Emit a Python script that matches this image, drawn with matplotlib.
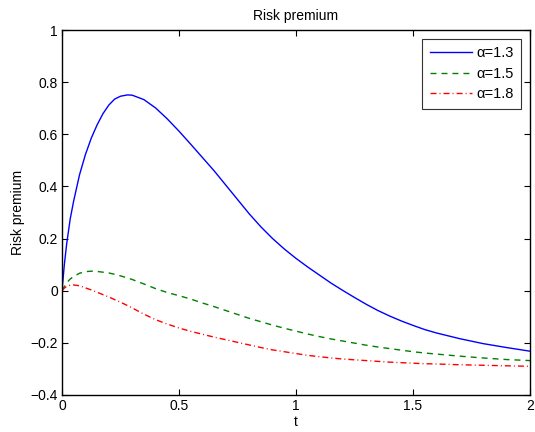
import matplotlib
matplotlib.use("Agg")
import matplotlib.pyplot as plt

plt.rcParams["font.family"] = ["Liberation Sans", "DejaVu Sans"]

# values
t = [0, 0.01, 0.02, 0.035, 0.05, 0.075, 0.1, 0.125, 0.15, 0.175, 0.2, 0.225,
     0.25, 0.28, 0.3, 0.35, 0.4, 0.45, 0.5, 0.55, 0.6, 0.65, 0.7, 0.75, 0.8,
     0.85, 0.9, 0.95, 1.0, 1.05, 1.1, 1.15, 1.2, 1.25, 1.3, 1.35, 1.4, 1.45,
     1.5, 1.55, 1.6, 1.7, 1.8, 1.9, 2.0]
rp_13 = [0, 0.10, 0.18, 0.275, 0.345, 0.445, 0.522, 0.585, 0.636, 0.679,
         0.712, 0.735, 0.746, 0.751, 0.750, 0.733, 0.701, 0.659, 0.612,
         0.562, 0.511, 0.460, 0.405, 0.350, 0.295, 0.245, 0.200, 0.160,
         0.124, 0.091, 0.060, 0.029, 0.001, -0.026, -0.052, -0.076, -0.097,
         -0.116, -0.133, -0.149, -0.162, -0.184, -0.203, -0.218, -0.232]
rp_15 = [0, 0.016, 0.03, 0.045, 0.055, 0.067, 0.073, 0.075, 0.074, 0.071,
         0.068, 0.063, 0.057, 0.049, 0.043, 0.026, 0.008, -0.007, -0.019,
         -0.032, -0.047, -0.061, -0.076, -0.091, -0.106, -0.119, -0.132,
         -0.144, -0.155, -0.166, -0.176, -0.185, -0.193, -0.201, -0.209,
         -0.216, -0.222, -0.228, -0.234, -0.239, -0.243, -0.251, -0.258,
         -0.264, -0.268]
rp_18 = [0, 0.010, 0.017, 0.021, 0.022, 0.019, 0.011, 0.003, -0.006, -0.015,
         -0.024, -0.034, -0.044, -0.057, -0.066, -0.090, -0.111, -0.128,
         -0.143, -0.156, -0.167, -0.178, -0.188, -0.198, -0.208, -0.218,
         -0.227, -0.234, -0.241, -0.248, -0.253, -0.258, -0.262, -0.265,
         -0.268, -0.271, -0.274, -0.276, -0.278, -0.280, -0.281, -0.284,
         -0.286, -0.288, -0.290]
labels = ["\u03b1=1.3", "\u03b1=1.5", "\u03b1=1.8"]
xticks = [0, 0.5, 1, 1.5, 2]
yticks = [-0.4, -0.2, 0, 0.2, 0.4, 0.6, 0.8, 1]

fig = plt.figure(figsize=(5.35, 4.32), dpi=100, facecolor="white")
ax = fig.add_axes([62 / 535, 1 - 395 / 432, 468 / 535, 365 / 432])

ax.plot(t, rp_13, color="#0000ff", linewidth=1.0, label=labels[0])
ax.plot(t, rp_15, color="#008000", linewidth=1.0, linestyle=(0, (4.3, 3.6)),
        label=labels[1])
ax.plot(t, rp_18, color="#ff0000", linewidth=1.0,
        linestyle=(0, (4.3, 2.2, 0.7, 2.2)), label=labels[2])

ax.set_xlim(0, 2)
ax.set_ylim(-0.4, 1)
ax.set_xticks(xticks)
ax.set_xticklabels(["0", "0.5", "1", "1.5", "2"])
ax.set_yticks(yticks)
ax.set_yticklabels(["\u22120.4", "\u22120.2", "0", "0.2", "0.4", "0.6",
                    "0.8", "1"])
ax.tick_params(direction="in", top=True, right=True, length=4, width=0.8,
               labelsize=10, pad=3)
for s in ax.spines.values():
    s.set_linewidth(1.0)

ax.set_title("Risk premium", fontsize=10, pad=7)
ax.set_xlabel("t", fontsize=10, labelpad=1)
ax.set_ylabel("Risk premium", fontsize=10, labelpad=4)

leg = ax.legend(loc="upper right", fontsize=10.5, frameon=True, fancybox=False,
                edgecolor="black", borderaxespad=0.62, handlelength=2.9,
                labelspacing=0.45, borderpad=0.5, handletextpad=0.3)
leg.get_frame().set_linewidth(0.8)

fig.savefig("out.png", dpi=100, facecolor="white")
